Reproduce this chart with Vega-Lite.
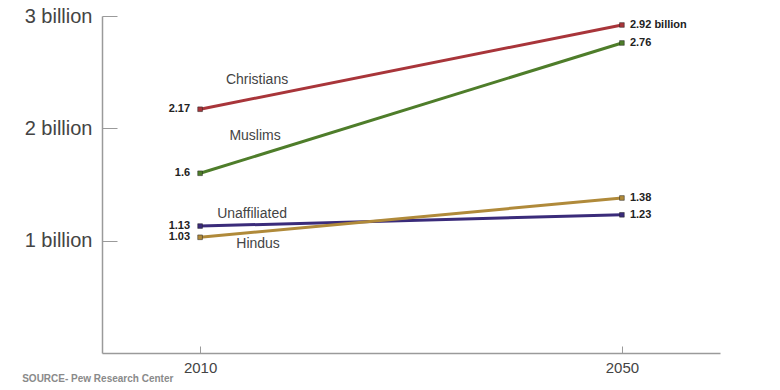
{
  "$schema": "https://vega.github.io/schema/vega-lite/v6.json",
  "autosize": "none",
  "width": 618,
  "height": 337,
  "padding": {"left": 102, "top": 16, "right": 60, "bottom": 37},
  "background": "white",
  "config": {"view": {"stroke": null}, "font": "Liberation Sans"},
  "title": {
    "text": "SOURCE- Pew Research Center",
    "orient": "bottom",
    "anchor": "start",
    "frame": "bounds",
    "fontSize": 10,
    "fontWeight": "bold",
    "color": "#8a8a8a",
    "offset": -1,
    "dx": -2
  },
  "data": {
    "values": [
      {"group": "Christians", "year": 2010, "value": 2.17, "label": "2.17"},
      {"group": "Christians", "year": 2050, "value": 2.92, "label": "2.92 billion"},
      {"group": "Muslims", "year": 2010, "value": 1.6, "label": "1.6"},
      {"group": "Muslims", "year": 2050, "value": 2.76, "label": "2.76"},
      {"group": "Unaffiliated", "year": 2010, "value": 1.13, "label": "1.13"},
      {"group": "Unaffiliated", "year": 2050, "value": 1.23, "label": "1.23"},
      {"group": "Hindus", "year": 2010, "value": 1.03, "label": "1.03"},
      {"group": "Hindus", "year": 2050, "value": 1.38, "label": "1.38"}
    ]
  },
  "encoding": {
    "x": {
      "field": "year",
      "type": "quantitative",
      "scale": {"domain": [2000.7, 2059.3], "nice": false, "zero": false},
      "axis": {
        "title": null,
        "values": [2010, 2050],
        "format": "d",
        "grid": false,
        "domainColor": "#9a9a9a",
        "domainWidth": 1.5,
        "tickColor": "#9a9a9a",
        "tickSize": -7,
        "tickWidth": 1,
        "labelFontSize": 15,
        "labelColor": "#444",
        "labelPadding": 14
      }
    },
    "y": {
      "field": "value",
      "type": "quantitative",
      "scale": {"domain": [0, 3], "nice": false},
      "axis": {
        "title": null,
        "values": [1, 2, 3],
        "labelExpr": "datum.value + ' billion'",
        "grid": false,
        "domainColor": "#9a9a9a",
        "domainWidth": 1.5,
        "tickColor": "#9a9a9a",
        "tickSize": -15,
        "tickWidth": 1,
        "labelFontSize": 20,
        "labelColor": "#444",
        "labelPadding": 25
      }
    },
    "color": {
      "field": "group",
      "type": "nominal",
      "scale": {
        "domain": ["Christians", "Muslims", "Unaffiliated", "Hindus"],
        "range": ["#a8353a", "#4e7d2a", "#3a2b7a", "#b08a3a"]
      },
      "legend": null
    }
  },
  "layer": [
    {"mark": {"type": "line", "strokeWidth": 3}, "encoding": {"detail": {"field": "group"}}},
    {"mark": {"type": "square", "size": 22, "opacity": 1, "filled": true, "stroke": "#222", "strokeWidth": 0.5}},
    {
      "transform": [{"filter": "datum.year == 2010"}],
      "mark": {"type": "text", "align": "right", "dx": -10, "baseline": "middle", "fontSize": 11, "fontWeight": "bold"},
      "encoding": {"text": {"field": "label"}, "color": {"value": "#222"}}
    },
    {
      "transform": [{"filter": "datum.year == 2050"}],
      "mark": {"type": "text", "align": "left", "dx": 8, "baseline": "middle", "fontSize": 11, "fontWeight": "bold"},
      "encoding": {"text": {"field": "label"}, "color": {"value": "#222"}}
    },
    {
      "transform": [{"filter": "datum.year == 2010 && datum.group == 'Christians'"}],
      "mark": {"type": "text", "align": "center", "dx": 57, "dy": -29, "baseline": "middle", "fontSize": 14},
      "encoding": {"text": {"field": "group"}, "color": {"value": "#444"}}
    },
    {
      "transform": [{"filter": "datum.year == 2010 && datum.group == 'Muslims'"}],
      "mark": {"type": "text", "align": "center", "dx": 55, "dy": -37, "baseline": "middle", "fontSize": 14},
      "encoding": {"text": {"field": "group"}, "color": {"value": "#444"}}
    },
    {
      "transform": [{"filter": "datum.year == 2010 && datum.group == 'Unaffiliated'"}],
      "mark": {"type": "text", "align": "center", "dx": 52, "dy": -12, "baseline": "middle", "fontSize": 14},
      "encoding": {"text": {"field": "group"}, "color": {"value": "#444"}}
    },
    {
      "transform": [{"filter": "datum.year == 2010 && datum.group == 'Hindus'"}],
      "mark": {"type": "text", "align": "center", "dx": 58, "dy": 7, "baseline": "middle", "fontSize": 14},
      "encoding": {"text": {"field": "group"}, "color": {"value": "#444"}}
    }
  ]
}
